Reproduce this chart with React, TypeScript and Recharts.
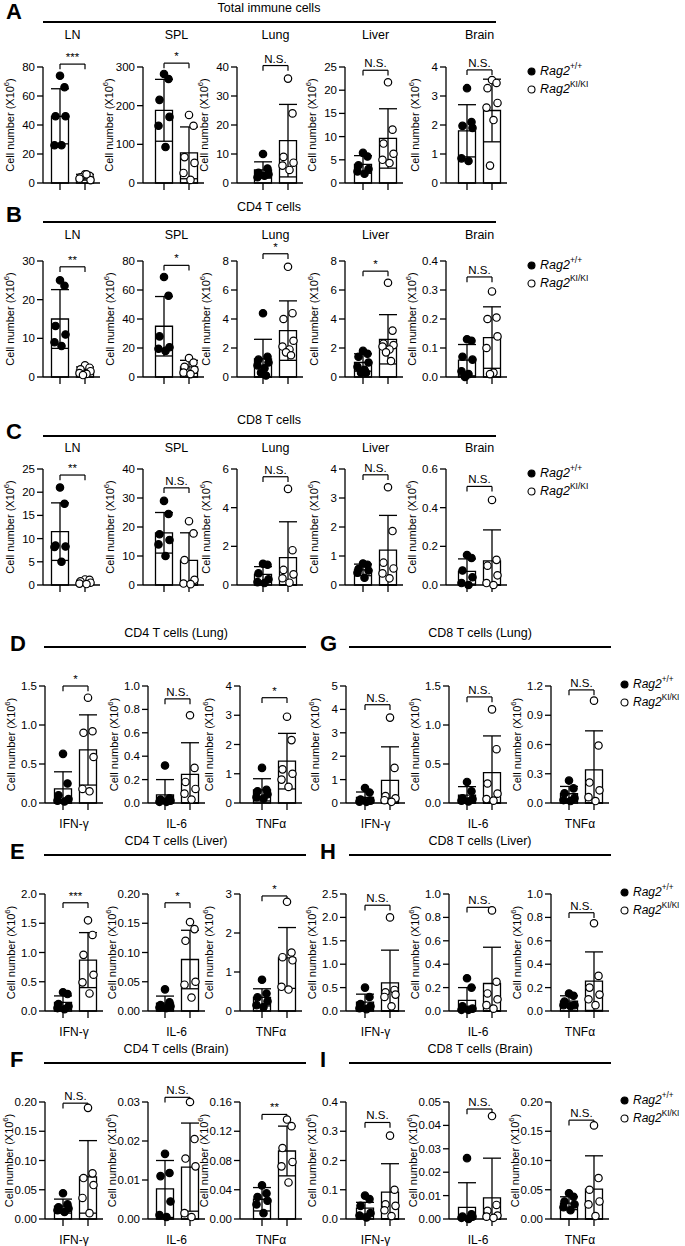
import React from 'react';
import { ComposedChart, Bar, ErrorBar, Scatter, XAxis, YAxis, ReferenceLine } from 'recharts';

const FONT = '"Liberation Sans", Arial, Helvetica, sans-serif';

// ---------- A: Total immune cells ----------
const organs = ['LN', 'SPL', 'Lung', 'Liver', 'Brain'];
const aTicks = [['0', '20', '40', '60', '80'], ['0', '100', '200', '300'], ['0', '10', '20', '30', '40'], ['0', '5', '10', '15', '20', '25'], ['0', '1', '2', '3', '4']];
const aWtMean = [46, 188, 4.5, 4.0, 1.8];
const aWtSD = [19, 80, 2.8, 1.9, 0.9];
const aKiMean = [4, 78, 14.6, 9.6, 2.5];
const aKiSD = [2, 67, 12.5, 6.4, 1.08];
const aWtPts = [[74, 66, 46, 46, 26, 26], [282, 269, 215, 171, 148, 93], [10, 5, 3.5, 3, 2, 2.5], [6.5, 5.7, 3.8, 3, 2.5, 2], [3.27, 2.1, 1.97, 1.9, 0.85, 0.76]];
const aKiPts = [[6, 5, 4, 2, 3, 6], [176, 148, 67, 52, 26, 8], [36, 24, 9, 7, 6, 4.5], [21.7, 11.5, 8.5, 6.3, 5, 4.3], [3.55, 3.45, 3.27, 2.76, 2.6, 2.17, 0.6]];
const aSig = ['***', '*', 'N.S.', 'N.S.', 'N.S.'];
const aBracket = [82, 310, 40.5, 24.3, 3.9];

// ---------- B: CD4 T cells ----------
const bTicks = [['0', '10', '20', '30'], ['0', '20', '40', '60', '80'], ['0', '2', '4', '6', '8'], ['0', '2', '4', '6', '8'], ['0.0', '0.1', '0.2', '0.3', '0.4']];
const bWtMean = [15, 35, 1.25, 1.0, 0.058];
const bWtSD = [7.6, 20.5, 1.35, 0.6, 0.054];
const bKiMean = [1.8, 7, 3.2, 2.6, 0.136];
const bKiSD = [0.8, 4.5, 2.05, 1.7, 0.106];
const bWtPts = [[25, 23.6, 13.2, 11, 9, 8], [69, 56, 28, 20.5, 19.5, 18], [4.4, 1.4, 1.2, 1.0, 0.8, 0.6, 0.3, 0.1], [1.8, 1.6, 1.4, 1.0, 0.7, 0.5, 0.3, 0.3], [0.13, 0.125, 0.07, 0.06, 0.02, 0.01, 0.0]];
const bKiPts = [[3, 2.4, 2, 1.5, 1, 0.8, 0.5], [13, 10, 7, 5, 3, 2], [7.6, 4.4, 4.0, 2.5, 2.1, 1.9, 1.7, 1.5], [6.5, 3.2, 2.3, 2.2, 2.1, 1.9, 1.7, 1.1], [0.295, 0.205, 0.2, 0.14, 0.1, 0.015, 0.01]];
const bSig = ['**', '*', '*', '*', 'N.S.'];
const bBracket = [28.5, 77, 8.5, 7.3, 0.345];

// ---------- C: CD8 T cells ----------
const cTicks = [['0', '5', '10', '15', '20', '25'], ['0', '10', '20', '30', '40'], ['0', '2', '4', '6'], ['0', '1', '2', '3', '4'], ['0.0', '0.2', '0.4', '0.6']];
const cWtMean = [11.5, 18, 0.55, 0.52, 0.07];
const cWtSD = [6.2, 7, 0.4, 0.2, 0.065];
const cKiMean = [0.6, 8.5, 1.42, 1.2, 0.125];
const cKiSD = [0.4, 9.5, 1.85, 1.2, 0.16];
const cWtPts = [[21, 17.5, 8.5, 8.3, 8.2, 5], [29, 24.5, 17.5, 15.5, 14, 10], [1.1, 1.05, 0.6, 0.3, 0.15, 0.1], [0.74, 0.7, 0.55, 0.5, 0.42, 0.25], [0.155, 0.14, 0.075, 0.04, 0.01, 0]];
const cKiPts = [[1.2, 1.1, 0.8, 0.5, 0.3, 0.2], [22, 17.8, 8.6, 1.8, 0.5, 0.3], [4.97, 1.8, 0.78, 0.55, 0.35, 0.12], [3.37, 1.86, 0.77, 0.57, 0.4, 0.23], [0.44, 0.13, 0.1, 0.05, 0.01, 0]];
const cSig = ['**', 'N.S.', 'N.S.', 'N.S.', 'N.S.'];
const cBracket = [23.7, 33.5, 5.6, 3.8, 0.51];

// ---------- D-I: cytokine producing T cells ----------
const cytokines = ['IFN-γ', 'IL-6', 'TNFα'];

const dTicks = [['0.0', '0.5', '1.0', '1.5'], ['0.0', '0.2', '0.4', '0.6', '0.8', '1.0'], ['0', '1', '2', '3', '4']];
const dWtMean = [0.18, 0.07, 0.45];
const dWtSD = [0.22, 0.13, 0.38];
const dKiMean = [0.68, 0.245, 1.43];
const dKiSD = [0.45, 0.27, 0.95];
const dWtPts = [[0.63, 0.25, 0.1, 0.05, 0.03, 0.02], [0.32, 0.04, 0.03, 0.02, 0.01, 0.01], [1.2, 0.45, 0.4, 0.3, 0.2, 0.15]];
const dKiPts = [[1.35, 0.92, 0.9, 0.59, 0.18, 0.15], [0.75, 0.3, 0.18, 0.12, 0.08, 0.03], [2.95, 2.15, 1.15, 1.0, 0.8, 0.55]];
const dSig = ['*', 'N.S.', '*'];
const dBracket = [1.5, 0.89, 3.6];

const gTicks = [['0', '1', '2', '3', '4', '5'], ['0.0', '0.5', '1.0', '1.5'], ['0.0', '0.3', '0.6', '0.9', '1.2']];
const gWtMean = [0.24, 0.1, 0.095];
const gWtSD = [0.23, 0.11, 0.075];
const gKiMean = [0.97, 0.39, 0.34];
const gKiSD = [1.43, 0.47, 0.4];
const gWtPts = [[0.64, 0.45, 0.15, 0.1, 0.06, 0.05], [0.27, 0.15, 0.06, 0.05, 0.03, 0.02], [0.23, 0.15, 0.1, 0.05, 0.03, 0.02]];
const gKiPts = [[3.65, 1.5, 0.3, 0.2, 0.12, 0.05], [1.2, 0.69, 0.25, 0.12, 0.05, 0.03], [1.05, 0.59, 0.21, 0.13, 0.06, 0.02]];
const gSig = ['N.S.', 'N.S.', 'N.S.'];
const gBracket = [4.2, 1.36, 1.16];

const eTicks = [['0.0', '0.5', '1.0', '1.5', '2.0'], ['0.00', '0.05', '0.10', '0.15', '0.20'], ['0', '1', '2', '3']];
const eWtMean = [0.148, 0.0135, 0.35];
const eWtSD = [0.11, 0.012, 0.22];
const eKiMean = [0.87, 0.088, 1.36];
const eKiSD = [0.47, 0.05, 0.78];
const eWtPts = [[0.32, 0.29, 0.12, 0.08, 0.05, 0.03], [0.037, 0.015, 0.01, 0.008, 0.006, 0.005], [0.8, 0.45, 0.35, 0.25, 0.15, 0.1]];
const eKiPts = [[1.55, 1.3, 0.96, 0.62, 0.49, 0.3], [0.152, 0.14, 0.12, 0.05, 0.045, 0.023], [2.8, 1.5, 1.38, 1.3, 0.62, 0.55]];
const eSig = ['***', '*', '*'];
const eBracket = [1.85, 0.185, 2.95];

const hTicks = [['0.0', '0.5', '1.0', '1.5', '2.0', '2.5'], ['0.0', '0.2', '0.4', '0.6', '0.8', '1.0'], ['0.0', '0.2', '0.4', '0.6', '0.8', '1.0']];
const hWtMean = [0.19, 0.09, 0.085];
const hWtSD = [0.17, 0.11, 0.045];
const hKiMean = [0.6, 0.235, 0.255];
const hKiSD = [0.7, 0.31, 0.25];
const hWtPts = [[0.5, 0.3, 0.15, 0.1, 0.06, 0.04], [0.28, 0.2, 0.04, 0.02, 0.01, 0.01], [0.15, 0.13, 0.08, 0.05, 0.05, 0.04]];
const hKiPts = [[2.0, 0.45, 0.4, 0.35, 0.3, 0.1], [0.86, 0.25, 0.15, 0.1, 0.05, 0.02], [0.75, 0.3, 0.2, 0.14, 0.1, 0.05]];
const hSig = ['N.S.', 'N.S.', 'N.S.'];
const hBracket = [2.26, 0.886, 0.84];

const fTicks = [['0.00', '0.05', '0.10', '0.15', '0.20'], ['0.00', '0.01', '0.02', '0.03'], ['0.00', '0.04', '0.08', '0.12', '0.16']];
const fWtMean = [0.022, 0.0077, 0.027];
const fWtSD = [0.012, 0.0073, 0.016];
const fKiMean = [0.072, 0.0133, 0.093];
const fKiSD = [0.062, 0.0113, 0.034];
const fWtPts = [[0.044, 0.025, 0.02, 0.018, 0.015, 0.012], [0.0167, 0.0118, 0.011, 0.0045, 0.001, 0.0005], [0.046, 0.035, 0.03, 0.025, 0.02, 0.008]];
const fKiPts = [[0.19, 0.078, 0.07, 0.058, 0.036, 0.01], [0.03, 0.0205, 0.0155, 0.0135, 0.0015, 0.0005], [0.136, 0.127, 0.097, 0.078, 0.072, 0.05]];
const fSig = ['N.S.', 'N.S.', '**'];
const fBracket = [0.198, 0.0312, 0.143];

const iTicks = [['0.0', '0.1', '0.2', '0.3', '0.4'], ['0.00', '0.01', '0.02', '0.03', '0.04', '0.05'], ['0.00', '0.05', '0.10', '0.15', '0.20']];
const iWtMean = [0.037, 0.005, 0.027];
const iWtSD = [0.02, 0.0105, 0.011];
const iKiMean = [0.092, 0.009, 0.051];
const iKiSD = [0.097, 0.017, 0.057];
const iWtPts = [[0.08, 0.068, 0.045, 0.02, 0.012, 0.005], [0.026, 0.002, 0.001, 0.001, 0.0005, 0], [0.044, 0.038, 0.03, 0.025, 0.02, 0.015]];
const iKiPts = [[0.285, 0.1, 0.05, 0.045, 0.03, 0.01], [0.044, 0.006, 0.0035, 0.0015, 0.001, 0.0005], [0.16, 0.07, 0.05, 0.03, 0.025, 0.005]];
const iSig = ['N.S.', 'N.S.', 'N.S.'];
const iBracket = [0.33, 0.047, 0.169];

// ---------- layout ----------
const ORG_AXIS_X = [43, 143, 237, 345, 446];
const ORG_BAR_OFF = [17, 21, 26, 18, 21];
const CYTO_AXIS_X = [45, 148, 240, 346, 449, 551];
const CYTO_BAR_OFF = [18, 17, 22, 19, 18, 18];
const YW = 50;
const TOPM = 30;
const BOTM = 30;
const BAND = 25;
const JITTER = [0, 4.5, -4.5, 5.5, -5.5, 1.5, -2, 3];

function Txt({ x, y, size, children, bold, italic, anchor = 'middle' }: any) {
  return (
    <div
      style={{
        position: 'absolute',
        left: x,
        top: y,
        transform: `translate(${anchor === 'middle' ? '-50%' : '0'}, -50%)`,
        fontSize: size,
        fontWeight: bold ? 700 : 400,
        fontStyle: italic ? 'italic' : 'normal',
        lineHeight: 1,
        whiteSpace: 'nowrap',
        fontFamily: FONT,
        color: '#000',
      }}
    >
      {children}
    </div>
  );
}

function HLine({ x1, x2, y }: any) {
  return <div style={{ position: 'absolute', left: x1, top: y - 1, width: x2 - x1, height: 2, background: '#000' }} />;
}

function Legend({ x, y, size = 12.5 }: any) {
  const row = (dy: number, filled: boolean, sup: string) => (
    <div style={{ position: 'absolute', left: x - 4, top: y + dy - 8, height: 16, display: 'flex', alignItems: 'center', fontFamily: FONT, fontSize: size, whiteSpace: 'nowrap' }}>
      <svg width={9} height={9} style={{ marginRight: 4 }}>
        <circle cx={4.5} cy={4.5} r={3.5} fill={filled ? '#000' : '#fff'} stroke="#000" strokeWidth={1.1} />
      </svg>
      <span style={{ fontStyle: 'italic' }}>Rag2</span>
      <span style={{ fontSize: size * 0.68, position: 'relative', top: -5 }}>{sup}</span>
    </div>
  );
  return (
    <>
      {row(0, true, '+/+')}
      {row(18, false, 'KI/KI')}
    </>
  );
}

const yLabel = (off: number) => (props: any) => {
  const vb = props.viewBox || {};
  const cx = vb.x + vb.width - off;
  const cy = vb.y + vb.height / 2;
  return (
    <text x={cx} y={cy} transform={`rotate(-90 ${cx} ${cy})`} textAnchor="middle" dominantBaseline="central" fontSize={11} fontFamily={FONT} fill="#000">
      Cell number (X10
      <tspan fontSize={7.5} dy={-4}>6</tspan>
      <tspan dy={4}>)</tspan>
    </text>
  );
};

function mkRow(g: string, mean: number, sd: number, pts: number[]) {
  const r: any = { g, mean, err: [Math.min(sd, mean), sd] };
  pts.forEach((v, i) => {
    r['p' + i] = v;
  });
  return r;
}

function SubPlot({ axisX, top, plotH, off, ticks, wm, ws, km, ks, wp, kp, sig, br, xLabel }: any) {
  const tickVals = ticks.map((t: string) => parseFloat(t));
  const max = tickVals[tickVals.length - 1];
  const rows = [mkRow('WT', wm, ws, wp), mkRow('KI', km, ks, kp)];
  const nPts = Math.max(wp.length, kp.length);
  const plotW = off + BAND + 15;
  const w = YW + plotW + 6;
  const h = TOPM + plotH + BOTM;
  const maxLen = Math.max(...ticks.map((t: string) => t.length));
  const tl = max * 0.045;
  const ln = { stroke: '#000', strokeWidth: 1.3 };

  const dot = (i: number) => (p: any) => {
    const v = p.payload ? p.payload['p' + i] : null;
    if (v == null || p.cx == null || p.cy == null) return <g />;
    const filled = p.payload.g === 'WT';
    return <circle cx={p.cx + JITTER[i % JITTER.length]} cy={p.cy} r={3.7} fill={filled ? '#000' : '#fff'} stroke="#000" strokeWidth={1.2} />;
  };

  return (
    <div style={{ position: 'absolute', left: axisX - YW, top: top - TOPM }}>
      <ComposedChart width={w} height={h} data={rows} margin={{ top: TOPM, right: 6, bottom: 0, left: 0 }}>
        <XAxis
          dataKey="g"
          type="category"
          tickFormatter={() => ''}
          tickSize={7}
          axisLine={ln}
          tickLine={ln}
          padding={{ left: off - BAND / 2, right: 2.5 }}
          height={BOTM}
          label={xLabel ? { value: xLabel, position: 'insideBottom', offset: 5, fill: '#000', fontSize: 12, fontFamily: FONT } : undefined}
        />
        <YAxis
          type="number"
          domain={[0, max]}
          ticks={tickVals}
          interval={0}
          width={YW}
          tickSize={6}
          tickMargin={2}
          axisLine={ln}
          tickLine={ln}
          tick={{ fill: '#000', fontSize: 11.5, fontFamily: FONT }}
          tickFormatter={(v: number) => ticks[tickVals.indexOf(v)] ?? String(v)}
          label={yLabel(30 + 1.5 * maxLen)}
        />
        <Bar dataKey="mean" barSize={17} fill="#fff" stroke="#000" strokeWidth={1.3} isAnimationActive={false}>
          <ErrorBar dataKey="err" width={9} stroke="#000" strokeWidth={1.3} direction="y" />
        </Bar>
        {Array.from({ length: nPts }, (_, i) => (
          <Scatter key={i} dataKey={'p' + i} isAnimationActive={false} shape={dot(i)} />
        ))}
        <ReferenceLine
          segment={[{ x: 'WT', y: br }, { x: 'KI', y: br }]}
          stroke="#000"
          strokeWidth={1.2}
          ifOverflow="visible"
          label={{ value: sig, position: 'top', offset: 3, fill: '#000', fontSize: 11.5, fontFamily: FONT }}
        />
        <ReferenceLine segment={[{ x: 'WT', y: br }, { x: 'WT', y: br - tl }]} stroke="#000" strokeWidth={1.2} ifOverflow="visible" />
        <ReferenceLine segment={[{ x: 'KI', y: br }, { x: 'KI', y: br - tl }]} stroke="#000" strokeWidth={1.2} ifOverflow="visible" />
      </ComposedChart>
    </div>
  );
}

const organRows = [
  { letter: 'A', title: 'Total immune cells', titleY: 8, lineY: 22, letterY: 12, subY: 35, top: 67, ticks: aTicks, wm: aWtMean, ws: aWtSD, km: aKiMean, ks: aKiSD, wp: aWtPts, kp: aKiPts, sig: aSig, br: aBracket },
  { letter: 'B', title: 'CD4 T cells', titleY: 207, lineY: 222, letterY: 215, subY: 235, top: 261, ticks: bTicks, wm: bWtMean, ws: bWtSD, km: bKiMean, ks: bKiSD, wp: bWtPts, kp: bKiPts, sig: bSig, br: bBracket },
  { letter: 'C', title: 'CD8 T cells', titleY: 420, lineY: 436, letterY: 432, subY: 448, top: 469, ticks: cTicks, wm: cWtMean, ws: cWtSD, km: cKiMean, ks: cKiSD, wp: cWtPts, kp: cKiPts, sig: cSig, br: cBracket },
];

const cytoRows = [
  {
    lineY: 647,
    left: { letter: 'D', title: 'CD4 T cells (Lung)', ticks: dTicks, wm: dWtMean, ws: dWtSD, km: dKiMean, ks: dKiSD, wp: dWtPts, kp: dKiPts, sig: dSig, br: dBracket },
    right: { letter: 'G', title: 'CD8 T cells (Lung)', ticks: gTicks, wm: gWtMean, ws: gWtSD, km: gKiMean, ks: gKiSD, wp: gWtPts, kp: gKiPts, sig: gSig, br: gBracket },
  },
  {
    lineY: 855,
    left: { letter: 'E', title: 'CD4 T cells (Liver)', ticks: eTicks, wm: eWtMean, ws: eWtSD, km: eKiMean, ks: eKiSD, wp: eWtPts, kp: eKiPts, sig: eSig, br: eBracket },
    right: { letter: 'H', title: 'CD8 T cells (Liver)', ticks: hTicks, wm: hWtMean, ws: hWtSD, km: hKiMean, ks: hKiSD, wp: hWtPts, kp: hKiPts, sig: hSig, br: hBracket },
  },
  {
    lineY: 1063,
    left: { letter: 'F', title: 'CD4 T cells (Brain)', ticks: fTicks, wm: fWtMean, ws: fWtSD, km: fKiMean, ks: fKiSD, wp: fWtPts, kp: fKiPts, sig: fSig, br: fBracket },
    right: { letter: 'I', title: 'CD8 T cells (Brain)', ticks: iTicks, wm: iWtMean, ws: iWtSD, km: iKiMean, ks: iKiSD, wp: iWtPts, kp: iKiPts, sig: iSig, br: iBracket },
  },
];

export default function App() {
  return (
    <div style={{ position: 'relative', width: 685, height: 1246, background: '#fff', overflow: 'hidden', fontFamily: FONT }}>
      <style>{`body{margin:0;background:#fff}`}</style>

      {organRows.map((r) => (
        <React.Fragment key={r.letter}>
          <Txt x={6} y={r.letterY} size={22} bold anchor="start">{r.letter}</Txt>
          <Txt x={269} y={r.titleY} size={12.5}>{r.title}</Txt>
          <HLine x1={43} x2={496} y={r.lineY} />
          {organs.map((o, k) => (
            <React.Fragment key={o}>
              <Txt x={ORG_AXIS_X[k] + ORG_BAR_OFF[k] + BAND / 2} y={r.subY} size={12.5}>{o}</Txt>
              <SubPlot
                axisX={ORG_AXIS_X[k]}
                top={r.top}
                plotH={116}
                off={ORG_BAR_OFF[k]}
                ticks={r.ticks[k]}
                wm={r.wm[k]}
                ws={r.ws[k]}
                km={r.km[k]}
                ks={r.ks[k]}
                wp={r.wp[k]}
                kp={r.kp[k]}
                sig={r.sig[k]}
                br={r.br[k]}
              />
            </React.Fragment>
          ))}
          <Legend x={531} y={r.top + 4} />
        </React.Fragment>
      ))}

      {cytoRows.map((r) => {
        const top = r.lineY + 39;
        return (
          <React.Fragment key={r.left.letter}>
            <Txt x={10} y={r.lineY - 3} size={22} bold anchor="start">{r.left.letter}</Txt>
            <Txt x={176} y={r.lineY - 14} size={12.5}>{r.left.title}</Txt>
            <HLine x1={44} x2={306} y={r.lineY} />
            <Txt x={320} y={r.lineY - 3} size={22} bold anchor="start">{r.right.letter}</Txt>
            <Txt x={480} y={r.lineY - 14} size={12.5}>{r.right.title}</Txt>
            <HLine x1={349} x2={611} y={r.lineY} />
            {[r.left, r.right].map((p, side) =>
              cytokines.map((c, k) => {
                const idx = side * 3 + k;
                return (
                  <SubPlot
                    key={p.letter + c}
                    axisX={CYTO_AXIS_X[idx]}
                    top={top}
                    plotH={117}
                    off={CYTO_BAR_OFF[idx]}
                    ticks={p.ticks[k]}
                    wm={p.wm[k]}
                    ws={p.ws[k]}
                    km={p.km[k]}
                    ks={p.ks[k]}
                    wp={p.wp[k]}
                    kp={p.kp[k]}
                    sig={p.sig[k]}
                    br={p.br[k]}
                    xLabel={c}
                  />
                );
              })
            )}
            <Legend x={624} y={top - 2} size={12} />
          </React.Fragment>
        );
      })}
    </div>
  );
}
